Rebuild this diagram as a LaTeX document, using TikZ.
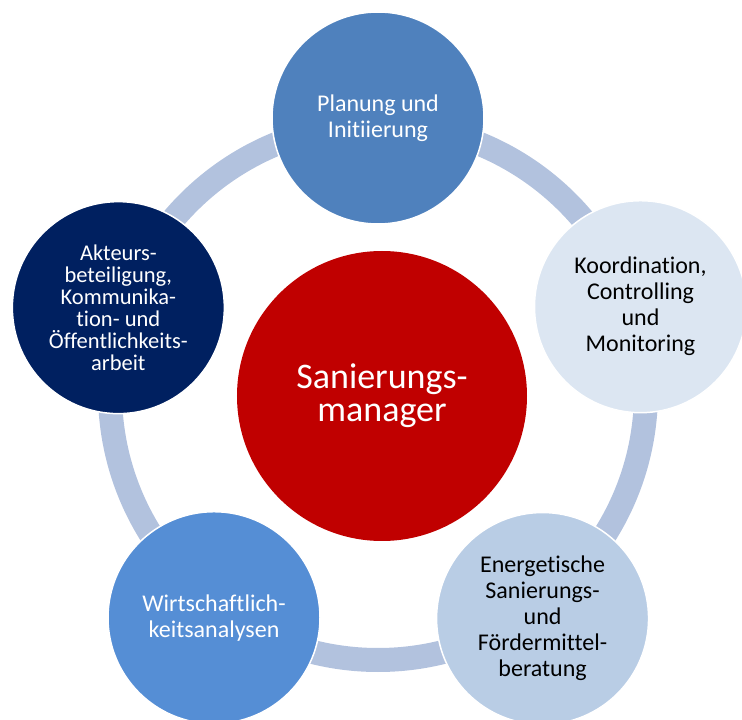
\documentclass[tikz,border=0pt]{standalone}
\usepackage{fontspec}
\setmainfont{Carlito}[Ligatures={NoCommon}]
\usepackage{xcolor}
\usepackage{tikz}
\usetikzlibrary{positioning}
\definecolor{ringblue}{RGB}{178,194,222}
\definecolor{hubred}{RGB}{192,0,0}
\definecolor{planblue}{RGB}{79,129,189}
\definecolor{coordblue}{RGB}{220,230,242}
\definecolor{energyblue}{RGB}{185,205,229}
\definecolor{econblue}{RGB}{85,142,213}
\definecolor{navyblue}{RGB}{0,32,96}
\tikzset{
  hub/.style={
    circle, minimum size=290pt, inner sep=0pt,
    fill=hubred, text=white, align=center,
    font=\fontsize{36}{33}\selectfont
  },
  phase/.style={
    circle, minimum size=212pt, inner sep=0pt,
    draw=white, line width=1.5pt, align=center,
    font=\fontsize{24}{26}\selectfont
  },
  planbox/.style={phase, fill=planblue, text=white},
  coordbox/.style={phase, fill=coordblue, text=black},
  energybox/.style={phase, fill=energyblue, text=black},
  econbox/.style={phase, fill=econblue, text=white},
  actorbox/.style={phase, fill=navyblue, text=white,
                   font=\fontsize{22.5}{22}\selectfont},
  ringline/.style={draw=ringblue, line width=24pt}
}

\begin{document}
\begin{tikzpicture}
  \useasboundingbox (-378pt,-328pt) rectangle (364pt,392pt);

  % ring behind the phases
  \coordinate (ringcenter) at (0,0);
  \draw[ringline] (ringcenter) circle (268pt);

  \node[hub] (manager) at (4pt,-4pt) {Sanierungs-\\manager};

  \node[planbox]   (plan)   at (90:274pt)   {Planung und\\Initiierung};
  \node[coordbox]  (coord)  at (18:276pt)   {Koordination,\\Controlling\\und\\Monitoring};
  \node[energybox] (energy) at (-54:280pt)  {Energetische\\Sanierungs-\\und\\Fördermittel-\\beratung};
  \node[econbox]   (econ)   at (-126:279pt) {Wirtschaftlich-\\keitsanalysen};
  \node[actorbox]  (actor)  at (162:273pt)  {Akteurs-\\beteiligung,\\Kommunika-\\tion- und\\Öffentlichkeits-\\arbeit};

\end{tikzpicture}
\end{document}
